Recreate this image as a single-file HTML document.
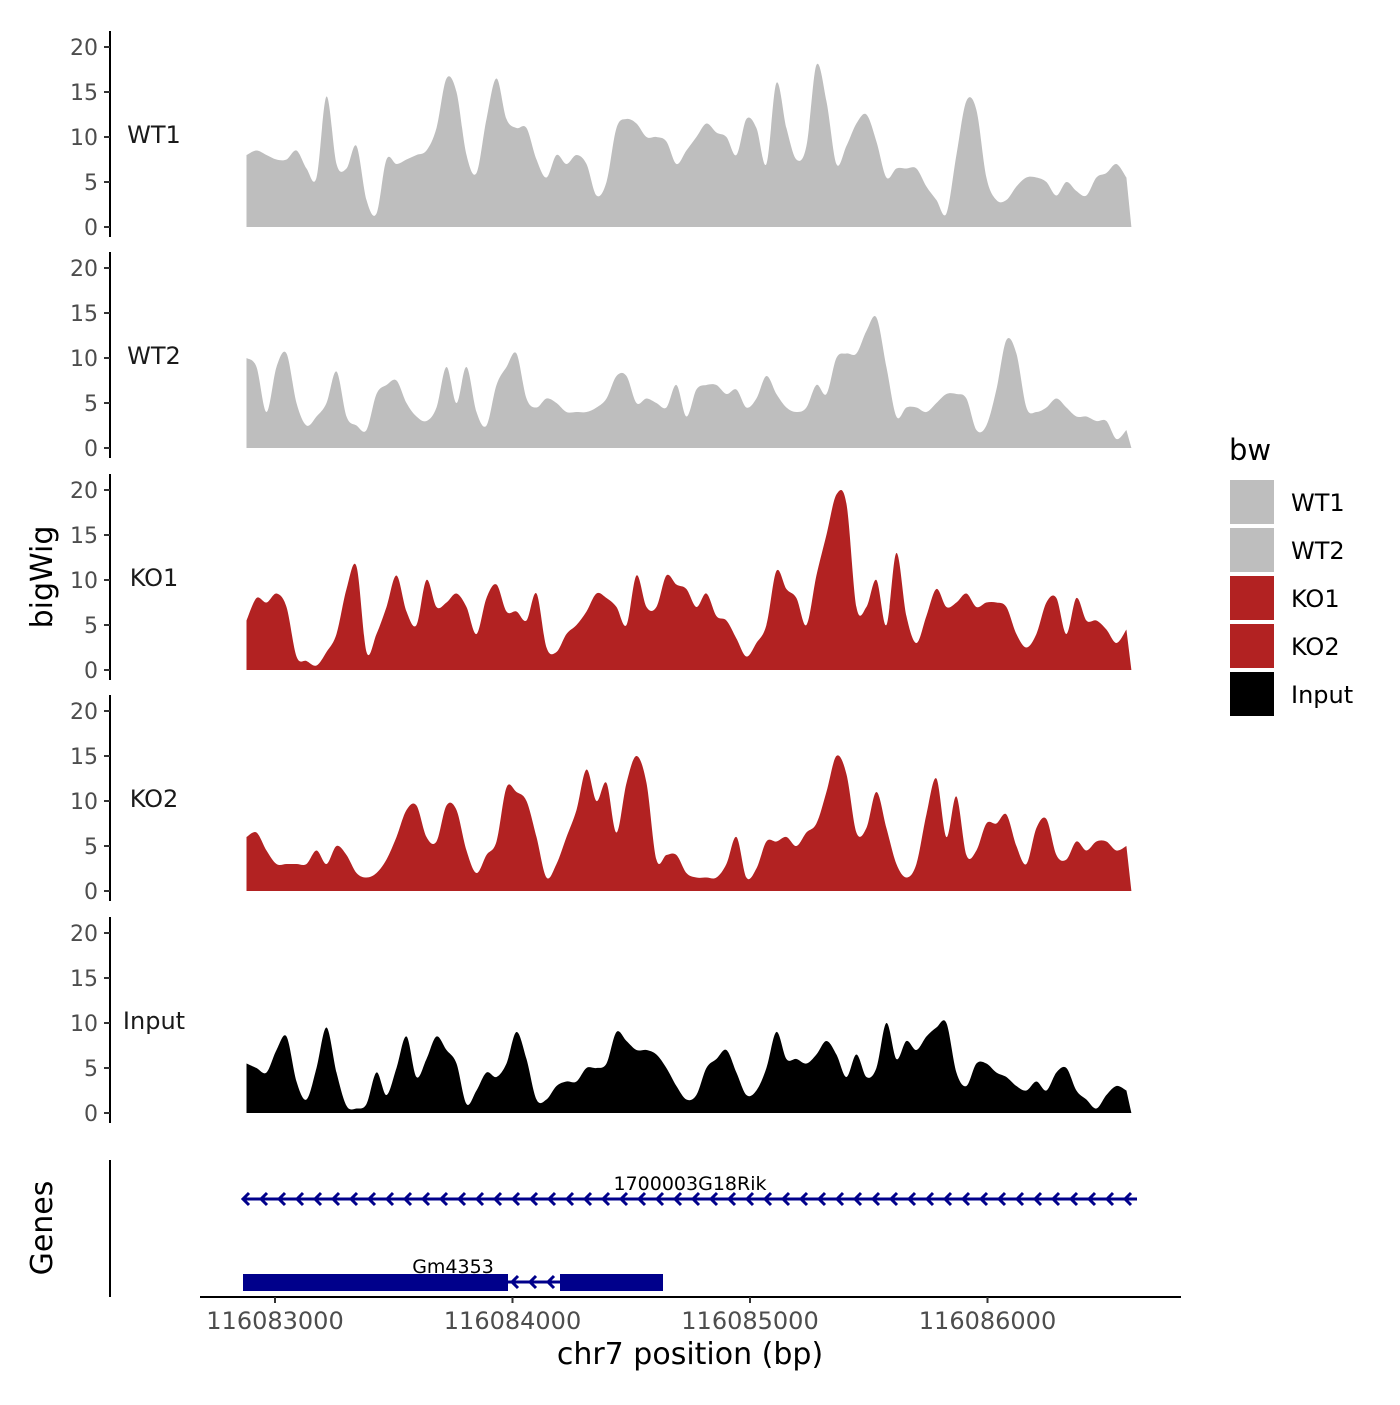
<!DOCTYPE html>
<html><head><meta charset="utf-8"><style>
body{margin:0;background:#fff}
svg text{font-family:"DejaVu Sans","Liberation Sans",sans-serif}
</style></head><body>
<svg id="c" width="1400" height="1400" viewBox="0 0 1400 1400" xmlns="http://www.w3.org/2000/svg"></svg>
<script>
const startBp = 116082880;
const stepBp = 42.1;
const trackNames = ["WT1","WT2","KO1","KO2","Input"];
const trackColors = ["#bebebe","#bebebe","#b22222","#b22222","#000000"];
const yTicks = [0,5,10,15,20];
const xTicks = [116083000,116084000,116085000,116086000];
const wt1 = [8,8.5,8,7.5,7.5,8.5,6.5,5.5,14.5,7,6.5,9,3,1.5,7.5,7,7.5,8,8.5,11,16.5,15,8,6,12,16.5,12,11,11,7.5,5.5,8,7,8,7,3.5,5,11,12,11.5,10,10,9.5,7,8.5,10,11.5,10.5,10,8,12,11,7,16,11,7.5,9,18,14,7,9,11.5,12.5,9.5,5.5,6.5,6.5,6.5,4.5,3,1.5,8,14,13,5.5,3,3,4.5,5.5,5.5,5,3.5,5,4,3.5,5.5,6,7,5.5];
const wt2 = [10,9,4,9,10.5,5,2.5,3.5,5,8.5,3.5,2.5,2,6,7,7.5,5,3.5,3,4.5,9,5,9,4,2.5,7,9,10.5,5.5,4.5,5.5,5,4,4,4,4.5,5.5,8,8,5,5.5,5,4.5,7,3.5,6.5,7,7,6,6.5,4.5,5.5,8,6,4.5,4,4.5,7,6,10,10.5,10.5,13,14.5,9,3.5,4.5,4.5,4,5,6,6,5.5,2,2.5,6.5,12,10.5,4.5,4,4.5,5.5,4.5,3.5,3.5,3,3,1,2];
const ko1 = [5.5,8,7.5,8.5,7,1.5,1,0.5,2,4,9,11.5,2,4,7,10.5,6.5,5,10,7,7.5,8.5,7,4,8,9.5,6.5,6.5,5.5,8.5,2.5,2,4,5,6.5,8.5,8,7,5,10.5,7,7,10.5,9.5,9,7,8.5,6,5.5,3.5,1.5,3,5,11,9,8,5,10.5,15,19.5,18.5,7,7,10,5,13,6,3,6,9,7,7.5,8.5,7,7.5,7.5,7,4,2.5,4,7.5,8,4,8,5.5,5.5,4.5,3,4.5];
const ko2 = [6,6.5,4.5,3,3,3,3,4.5,3,5,4,2,1.5,2,3.5,6,9,9.5,6,5.5,9.5,9,4.5,2,4,5.5,11.5,11,10,6,1.5,3,6,9,13.5,10,12,6.5,12,15,12,3.5,4,4,2,1.5,1.5,1.5,3,6,1.5,2.5,5.5,5.5,6,5,6.5,7.5,11,15,13,6.5,7,11,7,3,1.5,3,8.5,12.5,6,10.5,4,4.5,7.5,7.5,8.5,5,3,7,8,4,3.5,5.5,4.5,5.5,5.5,4.5,5];
const input = [5.5,5,4.5,7,8.5,3.5,1.5,5,9.5,4.5,0.8,0.5,1,4.5,2,5,8.5,4,6,8.5,7,5.5,1,2.5,4.5,4,5.5,9,6,1.5,1.5,3,3.5,3.5,5,5,5.5,9,8,7,7,6.5,5,3,1.5,2,5,6,7,4.5,2,2.5,5,9,6,6,5.5,6.5,8,6.5,4,6.5,4,5,10,6,8,7,8.5,9.5,10,4.5,3,5.5,5.5,4.5,4,3,2.5,3.5,2.5,4.5,5,2.5,1.5,0.5,2,3,2.5];
const series = [wt1,wt2,ko1,ko2,input];

const NS="http://www.w3.org/2000/svg";
const svg=document.getElementById('c');
function mk(tag,attrs,parent){const e=document.createElementNS(NS,tag);for(const k in attrs)e.setAttribute(k,attrs[k]);(parent||svg).appendChild(e);return e;}
const xScale = bp => 275 + (bp-116083000)*0.2375;
const panelBase = [227,448,670,891,1113];
const yScale = (p,v) => panelBase[p] - v*9;

series.forEach((vals,p)=>{
  const g=mk('g',{});
  
  
  const pts=vals.map((v,i)=>[xScale(startBp+stepBp*i),yScale(p,v)]);
  const x0=pts[0][0], x1=pts[pts.length-1][0];
  let d='M'+x0+','+yScale(p,0)+' L'+pts[0][0]+','+pts[0][1];
  for(let i=0;i<pts.length-1;i++){
    const p0=pts[Math.max(0,i-1)],p1=pts[i],p2=pts[i+1],p3=pts[Math.min(pts.length-1,i+2)];
    const c1=[p1[0]+(p2[0]-p0[0])/6,p1[1]+(p2[1]-p0[1])/6];
    const c2=[p2[0]-(p3[0]-p1[0])/6,p2[1]-(p3[1]-p1[1])/6];
    c1[1]=Math.min(c1[1],yScale(p,0));c2[1]=Math.min(c2[1],yScale(p,0));
    d+=` C${c1[0].toFixed(1)},${c1[1].toFixed(1)} ${c2[0].toFixed(1)},${c2[1].toFixed(1)} ${p2[0].toFixed(1)},${p2[1].toFixed(1)}`;
  }
  d+=' L'+(x1+5)+','+yScale(p,0)+' Z';
  const a=mk('path',{d:d,fill:trackColors[p]},g);
  
  
  const ax=mk('line',{x1:110,x2:110,y1:yScale(p,20)-16,y2:yScale(p,0)+10,stroke:'#000','stroke-width':2},g);
  
  
  yTicks.forEach(t=>{
    mk('line',{x1:104,x2:110,y1:yScale(p,t),y2:yScale(p,t),stroke:'#333','stroke-width':2},g);
    const tx=mk('text',{x:98,y:yScale(p,t)+8,'text-anchor':'end','font-size':22,fill:'#4d4d4d'},g);
    tx.textContent=t;
    
    
  });
  const lb=mk('text',{x:154,y:yScale(p,10)+6,'text-anchor':'middle','font-size':24,fill:'#1a1a1a'},g);
  lb.textContent=trackNames[p];
  
  
});

const gg=mk('g',{});


mk('line',{x1:110,x2:110,y1:1160,y2:1297,stroke:'#000','stroke-width':2},gg);
mk('line',{x1:243,x2:1137,y1:1199,y2:1199,stroke:'#00008b','stroke-width':3},gg);
for(let x=243;x<1130;x+=18){mk('path',{d:`M${x+6},${1193} L${x},${1199} L${x+6},${1205}`,fill:'none',stroke:'#00008b','stroke-width':3},gg);}
mk('line',{x1:508,x2:560,y1:1282,y2:1282,stroke:'#00008b','stroke-width':3},gg);
for(let x=512;x<556;x+=18){mk('path',{d:`M${x+6},${1276} L${x},${1282} L${x+6},${1288}`,fill:'none',stroke:'#00008b','stroke-width':3},gg);}
const e1=mk('rect',{x:243,y:1274,width:265,height:17,fill:'#00008b'},gg);


const e2=mk('rect',{x:560,y:1274,width:103,height:17,fill:'#00008b'},gg);


const g1=mk('text',{x:690,y:1190,'text-anchor':'middle','font-size':19,fill:'#000'},gg);g1.textContent='1700003G18Rik';


const g2=mk('text',{x:453,y:1273,'text-anchor':'middle','font-size':19,fill:'#000'},gg);g2.textContent='Gm4353';



const xa=mk('line',{x1:200,x2:1181,y1:1297,y2:1297,stroke:'#000','stroke-width':2});


xTicks.forEach(t=>{
  mk('line',{x1:xScale(t),x2:xScale(t),y1:1297,y2:1303,stroke:'#333','stroke-width':2});
  const tx=mk('text',{x:xScale(t),y:1329,'text-anchor':'middle','font-size':24,fill:'#4d4d4d'});
  tx.textContent=t;
  
  
});
</script>
<div style="position:absolute;left:0;top:0;width:1400px;height:1400px;pointer-events:none">
<svg width="1400" height="1400" xmlns="http://www.w3.org/2000/svg">
<text x="690" y="1364" text-anchor="middle" font-size="30" fill="#000">chr7 position (bp)</text>
<text transform="translate(52,577) rotate(-90)" text-anchor="middle" font-size="30" fill="#000">bigWig</text>
<text transform="translate(52,1228) rotate(-90)" text-anchor="middle" font-size="30" fill="#000">Genes</text>
<g>
<text x="1229" y="460" font-size="29" fill="#000">bw</text>
<rect x="1230" y="480" width="44" height="44" fill="#bebebe"/>
<rect x="1230" y="528" width="44" height="44" fill="#bebebe"/>
<rect x="1230" y="576" width="44" height="44" fill="#b22222"/>
<rect x="1230" y="624" width="44" height="44" fill="#b22222"/>
<rect x="1230" y="672" width="44" height="44" fill="#000"/>
<text x="1291" y="511" font-size="24" fill="#000">WT1</text>
<text x="1291" y="559" font-size="24" fill="#000">WT2</text>
<text x="1291" y="607" font-size="24" fill="#000">KO1</text>
<text x="1291" y="655" font-size="24" fill="#000">KO2</text>
<text x="1291" y="703" font-size="24" fill="#000">Input</text>
</g>
</svg></div>
</body></html>
